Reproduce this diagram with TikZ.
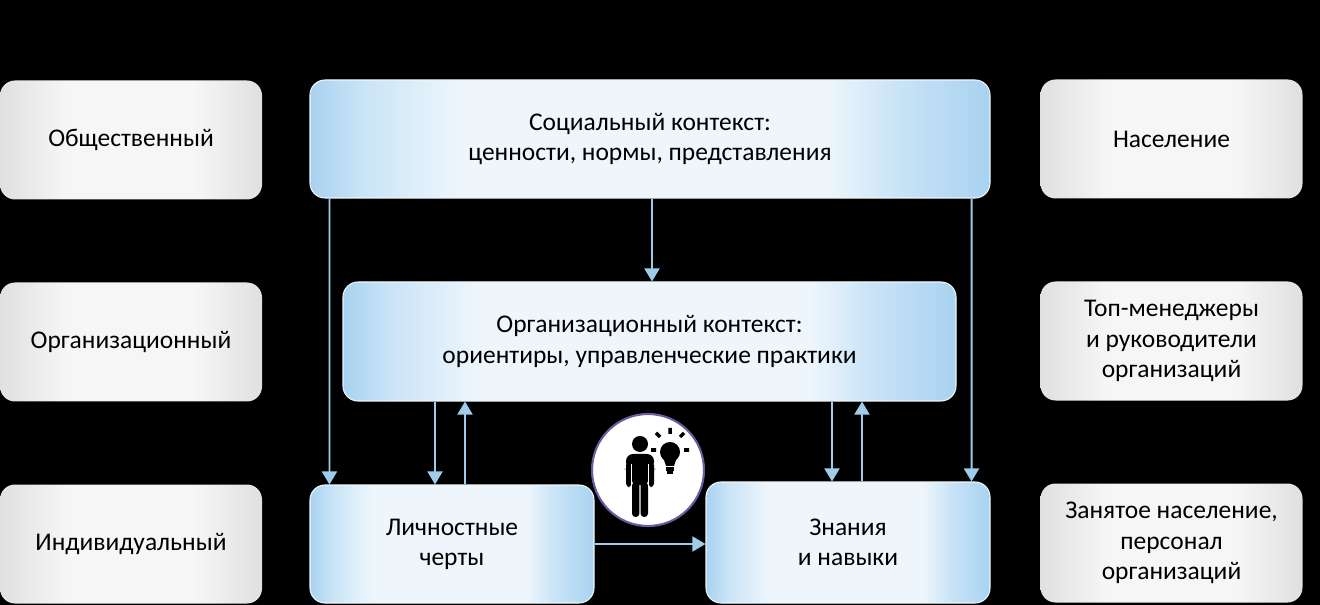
\documentclass[tikz,border=0pt]{standalone}
\usepackage{fontspec}
\setmainfont{Carlito}
\usetikzlibrary{arrows.meta,shapes,calc}
\definecolor{edgeblue}{RGB}{168,210,240}
\definecolor{softblue}{RGB}{202,228,247}
\definecolor{midblue}{RGB}{238,246,252}
\definecolor{edgegray}{RGB}{224,224,224}
\definecolor{midgray}{RGB}{246,246,246}
\definecolor{arrowblue}{RGB}{160,204,236}
\definecolor{ringpurple}{RGB}{110,90,160}
\pgfdeclarehorizontalshading{blueband}{100bp}{color(0bp)=(edgeblue); color(25bp)=(edgeblue); color(29bp)=(softblue); color(36bp)=(midblue); color(63bp)=(midblue); color(68bp)=(softblue); color(75bp)=(edgeblue); color(100bp)=(edgeblue)}
\pgfdeclarehorizontalshading{grayband}{100bp}{color(0bp)=(edgegray); color(25bp)=(edgegray); color(38bp)=(midgray); color(62bp)=(midgray); color(75bp)=(edgegray); color(100bp)=(edgegray)}
\tikzstyle{level} = [rounded corners=0.3cm, minimum width=5.24cm, minimum height=2.38cm, text centered, align=center, shading=grayband]
\tikzstyle{context} = [rounded corners=0.3cm, minimum height=2.38cm, text centered, align=center, shading=blueband, draw=midblue, line width=0.6pt]
\tikzstyle{arrow} = [arrowblue, line width=1.1pt, -{Triangle[length=0.26cm,width=0.3cm]}]

\begin{document}
\begin{tikzpicture}[font=\fontsize{14.5}{17.2}\selectfont]
    \fill [black] (0,0) rectangle (26.4,-12.1);
    \useasboundingbox (0,0) rectangle (26.4,-12.1);
    % levels, left and right
    \node [level] (society) at (2.62,-2.8) {Общественный};
    \node [level] (organisation) at (2.62,-6.84) {Организационный};
    \node [level] (individual) at (2.62,-10.88) {Индивидуальный};
    \node [level] (population) at (23.43,-2.78) {Население};
    \node [level] (managers) at (23.43,-6.82) {Топ-менеджеры\\и руководители\\организаций};
    \node [level] (staff) at (23.43,-10.86) {Занятое население,\\персонал\\организаций};
    % contexts
    \node [context, minimum width=13.6cm, minimum height=2.36cm] (social) at (13,-2.78) {Социальный контекст:\\ценности, нормы, представления};
    \node [context, minimum width=12.26cm] (orgctx) at (12.99,-6.83) {Организационный контекст:\\ориентиры, управленческие практики};
    \node [context, minimum width=5.68cm, minimum height=2.36cm] (traits) at (9.04,-10.88) {Личностные\\черты};
    \node [context, minimum width=5.68cm, minimum height=2.42cm] (skills) at (16.96,-10.85) {Знания\\и навыки};
    % connectors
    \draw [arrow] ([xshift=0.4cm]social.south west) -- ([xshift=0.4cm]traits.north west);
    \draw [arrow] ([xshift=-0.38cm]social.south east) -- ([xshift=-0.38cm]skills.north east);
    \draw [arrow] ([xshift=0.04cm]social.south) -- ([xshift=0.04cm]social.south |- orgctx.north);
    \draw [arrow] ([xshift=-0.34cm]orgctx.south -| traits.north) -- ([xshift=-0.34cm]traits.north);
    \draw [arrow] ([xshift=0.26cm]traits.north) -- ([xshift=0.26cm]orgctx.south -| traits.north);
    \draw [arrow] ([xshift=-0.32cm]orgctx.south -| skills.north) -- ([xshift=-0.32cm]skills.north);
    \draw [arrow] ([xshift=0.28cm]skills.north) -- ([xshift=0.28cm]orgctx.south -| skills.north);
    \draw [arrow] (traits.east) -- (skills.west |- traits.east);
    % person with an idea
    \node [circle, draw=ringpurple, line width=1.2pt, fill=white, minimum size=2.24cm] (idea) at (12.96,-9.4) {};
    \begin{scope}[shift={(idea.center)}, x=0.02cm, y=-0.02cm]
        \fill [black] (-8,-26) circle (8);
        \fill [black, rounded corners=4pt] (-22,-1) -- (-22,-16) -- (6,-16) -- (6,-1) -- (1,-1) -- (1,15) -- (-17,15) -- (-17,-1) -- cycle;
        \fill [black, rounded corners=2pt] (-22,-8) rectangle (-16.5,17) (0.5,-8) rectangle (6,17);
        \fill [black, rounded corners=2pt] (-16,12) rectangle (-8.6,47) (-7.4,12) rectangle (0,47);
        \draw [white, line width=0.6pt] (-16.5,-6) -- (-16.5,17) (0.5,-6) -- (0.5,17);
        \fill [black] (22,-18) circle (10);
        \fill [black] (15,-13) -- (29,-13) -- (26,-4) -- (18,-4) -- cycle;
        \draw [black, line width=2pt] (18,-1) -- (26,-1) (19,2.5) -- (25,2.5);
        \draw [black, line width=2pt] (22,-42) -- (22,-36) (8,-37) -- (12,-33) (36,-37) -- (32,-33) (3,-20) -- (8,-20) (36,-20) -- (41,-20);
    \end{scope}
\end{tikzpicture}
\end{document}
